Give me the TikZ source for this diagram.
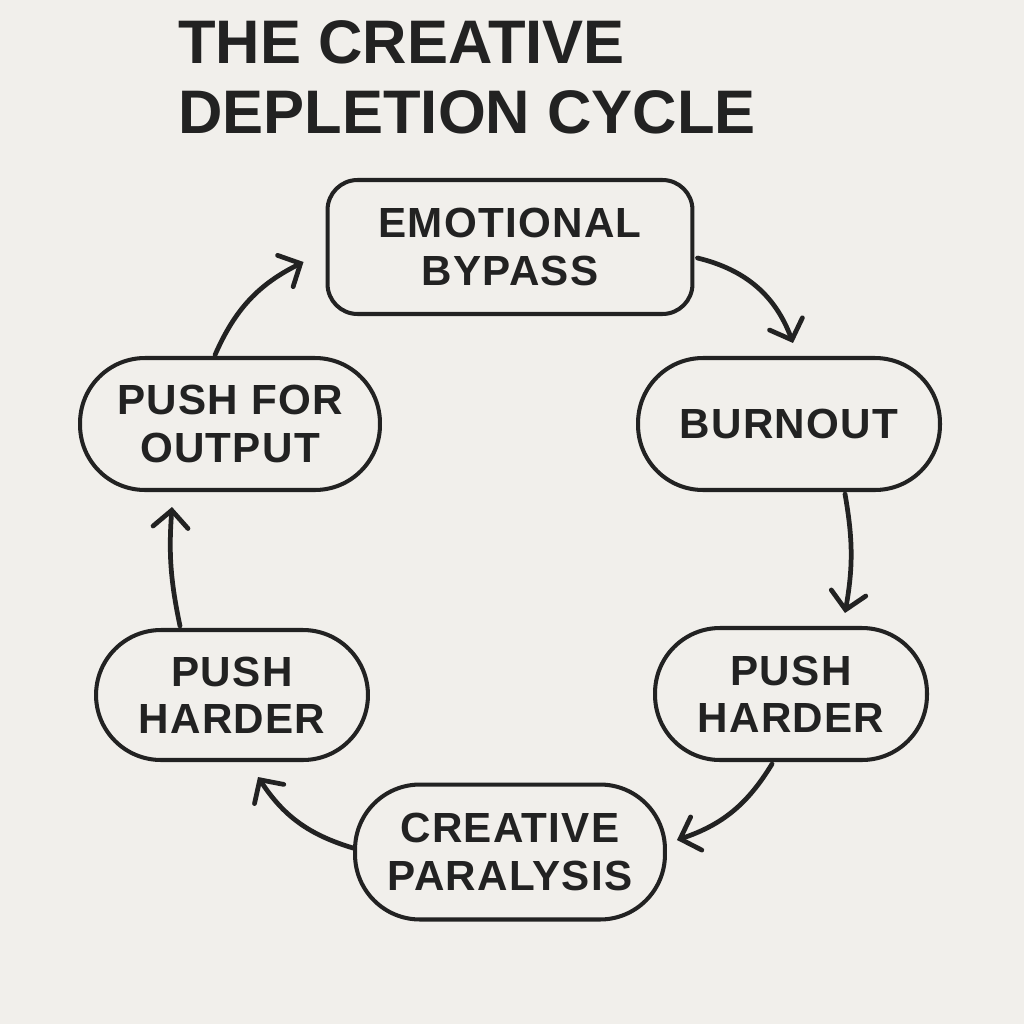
\documentclass[tikz,border=0pt]{standalone}
\usepackage{fontspec}
\setmainfont{Liberation Sans}
\usetikzlibrary{arrows.meta}
\definecolor{bg}{HTML}{F1EFEB}
\definecolor{ink}{HTML}{222222}
\begin{document}
\begin{tikzpicture}[x=0.02cm,y=-0.02cm,
  box/.style={draw=ink, line width=2.3pt, fill=bg, text=ink, align=center,
    font=\fontsize{24}{27}\selectfont\bfseries\addfontfeature{LetterSpace=3}, inner sep=0pt},
  stadium/.style={box, rounded corners=1.3cm},
  arr/.style={draw=ink, line width=2.7pt, line cap=round,
    -{Straight Barb[length=0.34cm,width=0.7cm,line cap=round]}}]
\fill[bg] (0,0) rectangle (1024,1024);
\useasboundingbox (0,0) rectangle (1024,1024);
\node[anchor=north west, text=ink, align=left, inner sep=0pt,
  font=\fontsize{35}{40}\selectfont\bfseries] (title) at (178,20) {THE CREATIVE\\DEPLETION CYCLE};
\node[box, rounded corners=0.6cm, minimum width=7.3cm, minimum height=2.68cm] (eb) at (510,247) {EMOTIONAL\\BYPASS};
\node[stadium, minimum width=6.04cm, minimum height=2.64cm] (bo) at (789,424) {BURNOUT};
\node[stadium, minimum width=5.44cm, minimum height=2.64cm] (phr) at (791,694) {PUSH\\HARDER};
\node[stadium, minimum width=6.2cm, minimum height=2.7cm] (cp) at (510,852) {CREATIVE\\PARALYSIS};
\node[stadium, minimum width=5.44cm, minimum height=2.6cm] (phl) at (232,695) {PUSH\\HARDER};
\node[stadium, minimum width=6.0cm, minimum height=2.64cm] (pfo) at (230,424) {PUSH FOR\\OUTPUT};
\draw[arr] ([shift={(3,11)}]eb.east) to[bend left=28] ([shift={(4,-13)}]bo.north);
\draw[arr] ([shift={(56,2)}]bo.south) to[bend left=10] ([shift={(54,-13)}]phr.north);
\draw[arr] ([shift={(-19,2)}]phr.south) to[bend left=20] ([shift={(10,-12)}]cp.east);
\draw[arr] ([shift={(0,-4)}]cp.west) to[bend left=20] ([shift={(26,15)}]phl.south);
\draw[arr] ([shift={(-52,-2)}]phl.north) to[bend left=8] ([shift={(-58,15)}]pfo.south);
\draw[arr] ([shift={(-15,-1)}]pfo.north) to[bend left=20] ([shift={(-22,15)}]eb.west);
\end{tikzpicture}
\end{document}
